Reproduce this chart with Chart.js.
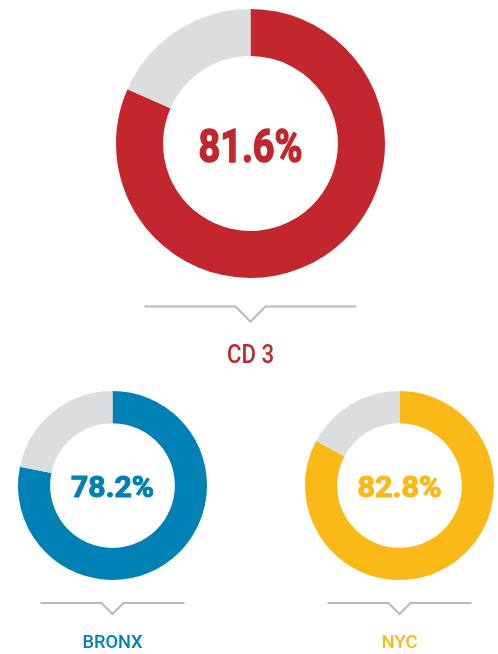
<!DOCTYPE html>
<html>
<head>
<meta charset="utf-8">
<script src="https://cdn.jsdelivr.net/npm/chart.js@4/dist/chart.umd.min.js"></script>
<style>
  html, body { margin: 0; padding: 0; background: #ffffff; }
  body { width: 498px; height: 654px; position: relative; overflow: hidden; }
  .box { position: absolute; }
</style>
</head>
<body>
<div class="box" style="left:0;top:0;width:498px;height:370px;"><canvas id="chart-cd3"></canvas></div>
<div class="box" style="left:0;top:380px;width:249px;height:274px;"><canvas id="chart-bronx"></canvas></div>
<div class="box" style="left:249px;top:380px;width:249px;height:274px;"><canvas id="chart-nyc"></canvas></div>
<script>
// data
const regions = ["CD 3", "BRONX", "NYC"];
const shares = [81.6, 78.2, 82.8];
const valueLabels = ["81.6%", "78.2%", "82.8%"];

const colors = ["#c1272d", "#0081b6", "#fbb918"];
const restColor = "#dcdddf";

// per chart layout (size of text, bracket, padding)
const layouts = [
    { id: "chart-cd3", padding: { left: 116, top: 9, right: 113, bottom: 92 }, cutout: "65%",
      valueSize: 47, valueWidth: 104, valueBase: 18, valueStroke: 1.6, labelSize: 25, labelWidth: 47, labelBase: 219.5,
      lineY: 163, lineHalf: 106, notch: 15 },
    { id: "chart-bronx", padding: { left: 18, top: 11, right: 42, bottom: 74 }, cutout: "66%",
      valueSize: 30, valueWidth: 83, valueBase: 11.5, valueStroke: 1.1, labelSize: 19, labelWidth: 60, labelBase: 162.5,
      lineY: 117.5, lineHalf: 72, notch: 11 },
    { id: "chart-nyc", padding: { left: 56, top: 11, right: 4, bottom: 74 }, cutout: "66%",
      valueSize: 30, valueWidth: 84, valueBase: 11.5, valueStroke: 1.1, labelSize: 19, labelWidth: 36, labelBase: 162.5,
      lineY: 117.5, lineHalf: 72, notch: 11 }
];

// draw text squeezed to a given width (the original font is condensed)
function squeezedText(ctx, text, x, y, width, stroke) {
    const w = ctx.measureText(text).width;
    ctx.save();
    ctx.translate(x, y);
    ctx.scale(width / w, 1);
    ctx.textAlign = "center";
    ctx.fillText(text, 0, 0);
    if (stroke) {
        // fake a heavier weight
        ctx.strokeStyle = ctx.fillStyle;
        ctx.lineWidth = stroke;
        ctx.lineJoin = "round";
        ctx.strokeText(text, 0, 0);
    }
    ctx.restore();
}

const centerPlugin = {
    id: "centerText",
    afterDraw(chart, args, opts) {
        const arc = chart.getDatasetMeta(0).data[0];
        const cx = arc.x, cy = arc.y;
        const ctx = chart.ctx;
        ctx.save();
        ctx.fillStyle = opts.color;
        ctx.textBaseline = "alphabetic";

        // value in the middle
        ctx.font = "bold " + opts.valueSize + "px Roboto";
        squeezedText(ctx, opts.value, cx, cy + opts.valueBase, opts.valueWidth, opts.valueStroke);

        // bracket line with notch
        const ly = cy + opts.lineY;
        ctx.strokeStyle = "#b9b9b9";
        ctx.lineWidth = 2;
        ctx.beginPath();
        ctx.moveTo(cx - opts.lineHalf, ly);
        ctx.lineTo(cx - opts.notch, ly);
        ctx.lineTo(cx, ly + opts.notch);
        ctx.lineTo(cx + opts.notch, ly);
        ctx.lineTo(cx + opts.lineHalf, ly);
        ctx.stroke();

        // region name
        ctx.font = "500 " + opts.labelSize + "px Roboto";
        squeezedText(ctx, opts.label, cx, cy + opts.labelBase, opts.labelWidth, 0);
        ctx.restore();
    }
};

layouts.forEach((lay, i) => {
    const ctx = document.getElementById(lay.id).getContext("2d");
    new Chart(ctx, {
        type: "doughnut",
        data: {
            labels: [regions[i], "Other"],
            datasets: [{
                data: [shares[i], 100 - shares[i]],
                backgroundColor: [colors[i], restColor],
                borderWidth: 0
            }]
        },
        options: {
            responsive: true,
            maintainAspectRatio: false,
            animation: false,
            cutout: lay.cutout,
            layout: { padding: lay.padding },
            plugins: {
                legend: { display: false },
                tooltip: { enabled: false },
                centerText: {
                    value: valueLabels[i],
                    label: regions[i],
                    color: colors[i],
                    valueSize: lay.valueSize,
                    valueWidth: lay.valueWidth,
                    valueBase: lay.valueBase,
                    valueStroke: lay.valueStroke,
                    labelSize: lay.labelSize,
                    labelWidth: lay.labelWidth,
                    labelBase: lay.labelBase,
                    lineY: lay.lineY,
                    lineHalf: lay.lineHalf,
                    notch: lay.notch
                }
            }
        },
        plugins: [centerPlugin]
    });
});
</script>
</body>
</html>
